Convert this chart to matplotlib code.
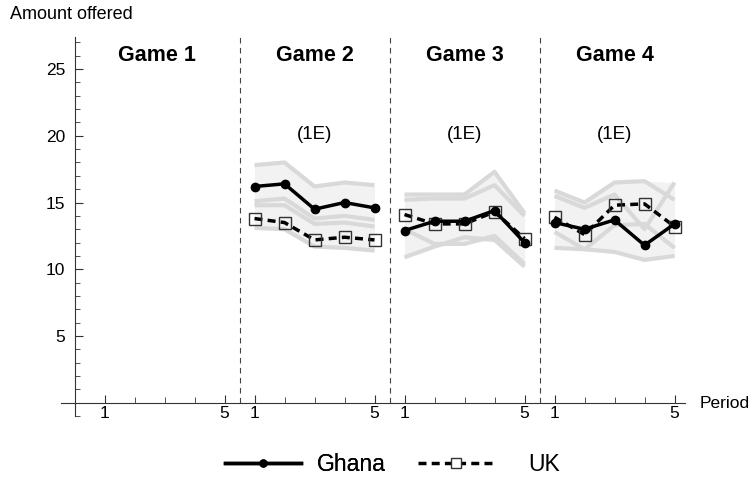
import matplotlib
matplotlib.use("Agg")
import matplotlib.pyplot as plt
from matplotlib.lines import Line2D
from matplotlib.ticker import FixedLocator, MultipleLocator

plt.rcParams['font.family'] = ['Liberation Sans', 'DejaVu Sans']

# games and periods
games = ['Game 1', 'Game 2', 'Game 3', 'Game 4']
periods = [1, 2, 3, 4, 5]
treatment = '(1E)'

# average offer per period (games 2-4)
ghana_g2 = [16.2, 16.4, 14.5, 15.0, 14.6]
ghana_g3 = [12.9, 13.6, 13.6, 14.4, 12.0]
ghana_g4 = [13.5, 13.0, 13.7, 11.8, 13.4]
uk_g2 = [13.8, 13.5, 12.2, 12.4, 12.2]
uk_g3 = [14.1, 13.4, 13.4, 14.3, 12.3]
uk_g4 = [13.9, 12.6, 14.8, 14.9, 13.2]

# individual session averages (grey lines)
sessions_g2 = [[17.8, 18.0, 16.2, 16.5, 16.3],
               [15.1, 15.3, 13.8, 14.0, 13.7],
               [14.8, 14.8, 13.4, 13.5, 13.2],
               [13.1, 13.0, 11.7, 11.6, 11.4]]
sessions_g3 = [[15.6, 15.6, 15.6, 17.3, 14.2],
               [15.2, 15.3, 15.3, 16.3, 14.0],
               [13.0, 11.9, 11.9, 12.5, 10.4],
               [10.9, 11.7, 12.4, 12.2, 10.2]]
sessions_g4 = [[15.9, 15.0, 16.5, 16.6, 15.2],
               [15.5, 14.6, 15.6, 13.0, 16.5],
               [12.8, 11.5, 13.3, 13.4, 11.6],
               [11.6, 11.5, 11.3, 10.7, 11.0]]

ghana = {2: ghana_g2, 3: ghana_g3, 4: ghana_g4}
uk = {2: uk_g2, 3: uk_g3, 4: uk_g4}
sessions = {2: sessions_g2, 3: sessions_g3, 4: sessions_g4}

UK_DASH = (0, (2.3, 1.5))


def xpos(g):
    return [(g - 1) * 5 + p for p in periods]


fig = plt.figure(figsize=(7.56, 4.8), dpi=100)
ax = fig.add_axes([0.0807, 0.133, 0.8254, 0.79])
ax.set_xlim(-0.45, 20.35)
ax.set_ylim(-1.0, 27.4)

for g in [2, 3, 4]:
    x = xpos(g)
    runs = sessions[g]
    lo = [min(r[i] for r in runs) for i in range(5)]
    hi = [max(r[i] for r in runs) for i in range(5)]
    ax.fill_between(x, lo, hi, color='#f2f2f2', lw=0, zorder=1)
    for r in runs:
        ax.plot(x, r, color='#d9d9d9', lw=3, zorder=2, solid_capstyle='butt')
    ax.plot(x, uk[g], color='black', lw=2.5, ls=UK_DASH,
            marker='s', ms=9, mfc='none', mec='#333333', mew=1.0, zorder=3)
    ax.plot(x, ghana[g], color='black', lw=2.5, marker='o', ms=6, zorder=4)

# game separators and headers
bounds = [0, 5.5, 10.5, 15.5, 20.5]
for k, name in enumerate(games):
    mid = (bounds[k] + bounds[k + 1]) / 2
    ax.text(mid, 26.0, name, ha='center', va='center',
            fontsize=15.5, fontweight='bold')
    if k > 0:
        ax.plot([bounds[k]] * 2, [0, 27.4], color='#444444', lw=0.8,
                ls=(0, (5, 4)), zorder=0)
        ax.text(mid, 20.1, treatment, ha='center', va='center', fontsize=13.5)

# axes styled as crossing lines
for side in ['top', 'right']:
    ax.spines[side].set_visible(False)
ax.spines['left'].set_position(('data', 0))
ax.spines['bottom'].set_position(('data', 0))
for side in ['left', 'bottom']:
    ax.spines[side].set_linewidth(0.8)
    ax.spines[side].set_color('#333333')

ax.yaxis.set_major_locator(FixedLocator([5, 10, 15, 20, 25]))
ax.yaxis.set_minor_locator(MultipleLocator(1))
ax.tick_params(axis='y', which='both', direction='in', labelsize=12.5, pad=6.5,
               color='#333333')
ax.tick_params(axis='y', which='major', length=6, width=0.8)
ax.tick_params(axis='y', which='minor', length=3.5, width=0.6)

major_x = []
labels_x = []
for g in range(1, 5):
    major_x += [(g - 1) * 5 + 1, (g - 1) * 5 + 5]
    labels_x += ['1', '5']
ax.xaxis.set_major_locator(FixedLocator(major_x))
ax.set_xticklabels(labels_x)
ax.xaxis.set_minor_locator(FixedLocator(list(range(1, 21))))
ax.tick_params(axis='x', which='both', direction='in', labelsize=12.5, pad=2.5,
               color='#333333')
ax.tick_params(axis='x', which='major', length=6, width=0.8)
ax.tick_params(axis='x', which='minor', length=4, width=0.6)

fig.text(0.013, 0.97, 'Amount offered', ha='left', va='center', fontsize=13)
fig.text(0.926, 0.16, 'Period', ha='left', va='center', fontsize=12.5)

# legend: two entries, each placed on its own
ghana_handle = Line2D([], [], color='black', lw=2.5, marker='o', ms=5)
uk_handle = Line2D([], [], color='black', lw=2.5, ls=UK_DASH, marker='s', ms=7,
                   mfc='white', mec='#333333', mew=1.0)
leg1 = fig.legend([ghana_handle], ['Ghana'], loc='center',
                  bbox_to_anchor=(0.404, 0.032), frameon=False, fontsize=16.5,
                  handlelength=3.3, handletextpad=0.7)
fig.add_artist(leg1)
fig.legend([uk_handle], ['UK'], loc='center', bbox_to_anchor=(0.647, 0.032),
           frameon=False, fontsize=16.5, handlelength=3.3, handletextpad=1.5)

fig.savefig('out.png', dpi=100)
